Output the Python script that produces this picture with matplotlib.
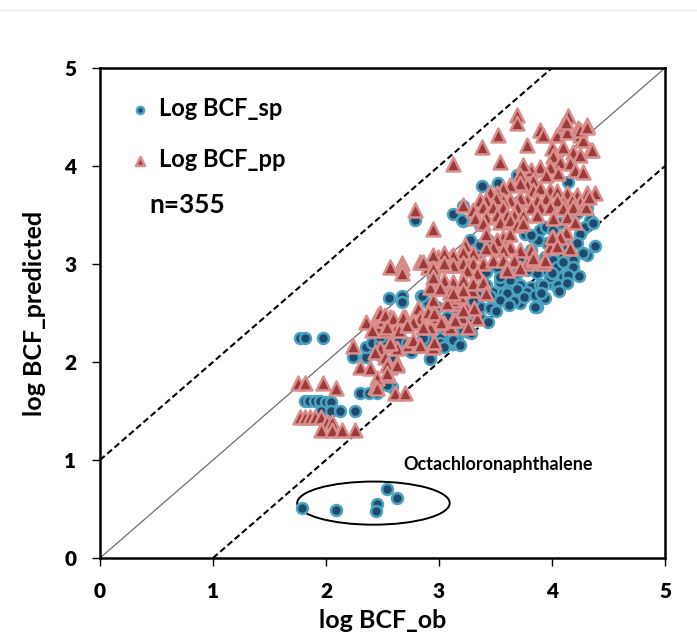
import matplotlib.pyplot as plt
import numpy as np
from matplotlib.patches import Ellipse
from matplotlib.lines import Line2D

# log BCF_sp (circles): observed vs predicted
sp_obs = [1.79, 2.09, 2.45, 2.44, 2.54, 2.63,
          1.77, 1.81, 1.97,
          1.81, 1.85, 1.90, 1.95, 2.00, 2.04,
          1.96, 2.04, 2.12, 2.26,
          2.24, 2.35, 2.35, 2.41, 2.48, 2.48, 2.59,
          2.30, 2.38, 2.45, 2.53, 2.58, 2.54,
          2.56, 2.67, 2.67, 2.84, 2.90, 2.85,
          2.79, 3.12, 3.21, 2.95,
          3.17, 3.23, 2.92, 3.16, 3.21, 3.04, 3.07, 2.98, 2.75, 2.83, 2.52, 2.50,
          2.65, 2.72, 3.01, 3.12, 2.89, 2.48,
          2.92, 3.01, 3.12, 3.16, 3.20, 3.30, 3.07, 2.95, 2.86, 2.98, 3.20, 3.34,
          3.69, 3.52, 3.38, 4.14, 3.21, 3.20, 3.36, 3.39,
          3.76, 3.83, 3.89, 3.95, 4.01, 4.07, 4.22, 4.31, 4.34, 4.29, 4.25, 4.38,
          4.31, 4.22, 4.13, 4.04, 3.96, 3.88, 3.81, 3.72, 3.83, 3.94, 4.01, 4.10,
          4.16, 4.10, 4.04, 3.95, 3.87, 3.78, 3.69, 3.60, 3.54, 3.63, 3.72, 3.81,
          3.89, 3.98, 4.04, 4.13, 3.42, 3.51, 3.42, 3.48, 3.57, 3.34, 3.36, 3.27,
          3.51,
          3.36, 3.43, 3.57, 3.81, 4.36, 4.27, 4.19, 4.05, 3.98, 3.78, 3.69, 3.60,
          3.54, 3.45, 3.63, 3.54, 3.72, 3.87, 3.36, 3.27, 3.36, 3.43, 3.21, 3.12,
          3.19, 3.04,
          4.19, 4.10, 4.14, 4.13, 4.00, 3.92, 3.85, 3.94, 3.85,
          3.30, 3.45, 3.66, 3.75, 3.90, 4.06, 4.24, 3.50, 3.62, 3.28]
sp_pred = [0.51, 0.49, 0.55, 0.48, 0.70, 0.61,
           2.24, 2.24, 2.25,
           1.60, 1.60, 1.60, 1.60, 1.59, 1.59,
           1.50, 1.50, 1.50, 1.50,
           2.05, 2.05, 2.15, 2.19, 2.20, 2.07, 2.02,
           1.68, 1.68, 1.68, 1.78, 1.75, 1.77,
           2.65, 2.67, 2.61, 2.67, 2.60, 2.67,
           3.45, 3.51, 3.44, 2.87,
           2.50, 2.45, 2.04, 2.22, 2.32, 2.30, 2.19, 2.19, 2.10, 2.15, 2.15, 2.22,
           2.22, 2.19, 2.24, 2.18, 2.22, 2.26,
           2.03, 2.19, 2.20, 2.43, 2.33, 2.43, 2.46, 2.33, 2.24, 2.56, 2.53, 2.51,
           3.91, 3.83, 3.80, 3.84, 3.59, 3.45, 3.40, 3.18,
           3.31, 3.28, 3.35, 3.38, 3.35, 3.42, 3.52, 3.57, 3.45, 3.38, 3.31, 3.18,
           3.09, 3.21, 3.18, 3.18, 3.21, 3.24, 3.14, 3.07, 3.04, 3.07, 3.04, 3.07,
           2.94, 2.87, 2.97, 2.94, 2.91, 2.94, 2.91, 2.87, 2.82, 2.77, 2.79, 2.77,
           2.79, 2.81, 2.77, 2.82, 2.92, 2.97, 2.79, 2.71, 2.70, 2.68, 3.11, 3.24,
           3.18,
           3.19, 3.24, 3.22, 3.30, 3.42, 3.11, 3.04, 2.79, 2.87, 2.71, 2.75, 2.70,
           2.63, 2.67, 2.84, 2.87, 2.60, 2.56, 2.56, 2.50, 2.45, 2.41, 2.33, 2.22,
           2.17, 2.15,
           2.97, 3.02, 2.89, 2.81, 2.91, 2.79, 2.68, 2.65, 2.56,
           2.62, 2.55, 2.62, 2.66, 2.70, 2.72, 2.88, 2.52, 2.58, 2.30]

# log BCF_pp (triangles): observed vs predicted
pp_obs = [1.75, 1.81, 1.97, 2.09,
          1.77, 1.81, 1.86, 1.90, 1.96, 2.01, 2.05, 1.96, 2.05, 2.14, 2.26,
          2.24, 2.35, 2.45, 2.30, 2.39, 2.45, 2.43, 2.48, 2.43,
          2.57, 2.63, 2.55, 2.45, 2.61, 2.70,
          2.41, 2.46, 2.50, 2.57, 2.61, 2.70, 2.76, 2.81, 2.83, 2.90, 2.92, 2.98,
          3.04, 3.10, 3.20, 3.26, 3.34, 2.65, 2.58, 2.63, 2.73, 2.81, 2.95, 2.98,
          3.04, 3.21, 3.29, 3.10, 3.16, 2.95, 3.24, 2.52,
          3.12, 2.79, 3.21, 2.95, 2.57, 2.67, 2.67, 2.67, 2.83, 2.90, 2.99, 3.05,
          3.11, 3.17, 3.25, 3.05, 2.92, 3.10, 3.20, 3.12, 3.19, 3.07, 2.90, 2.96,
          2.48, 2.52, 2.59, 2.68, 2.77, 2.54, 2.72, 2.86, 3.02, 3.12, 2.77, 2.83,
          2.96, 2.57, 2.52, 2.54, 2.63, 2.54, 3.23,
          3.69, 3.69, 4.14, 3.52, 3.38, 3.54, 3.78, 3.89, 3.92, 4.04, 4.10, 4.13,
          4.23, 4.31, 4.25, 4.00, 4.10, 4.19, 4.27, 4.34, 4.25, 4.01, 4.07, 3.98,
          4.16, 4.20, 4.27, 3.89, 3.81, 3.74, 3.72, 4.05, 3.95, 3.83, 3.78, 3.72,
          3.63, 3.57, 3.51, 3.45, 3.83, 3.89, 3.98, 4.04, 4.13, 4.22, 4.31, 4.38,
          4.25, 4.18, 4.10, 4.04, 3.95, 3.87, 3.78, 3.72, 3.63, 3.57, 3.50, 3.42,
          3.36, 3.39, 3.48, 3.57, 3.69, 3.81, 3.89, 3.98, 4.10, 4.19, 4.27, 3.30,
          3.32, 3.42, 3.51, 3.60, 3.66, 3.74, 3.39, 3.54, 3.63, 3.69, 3.74, 3.42,
          3.57, 3.63, 3.51, 4.13, 4.01, 3.87, 4.01, 4.12, 4.20, 3.98, 3.81, 3.72,
          3.63, 3.57, 3.48, 3.42, 3.30, 3.21, 3.12, 3.04, 2.95, 2.86, 3.21, 3.30,
          3.39, 3.48, 3.57, 3.66, 3.78, 3.12, 3.04, 2.95, 3.25, 3.34, 3.60, 3.83,
          3.92, 2.95, 3.04, 3.12, 3.21, 3.30, 3.39, 3.21, 3.10, 3.42, 3.12, 3.01,
          4.07, 3.94, 3.60, 3.72, 4.00, 3.31, 3.14, 3.21,
          4.12, 4.25, 4.31, 4.35, 4.04, 3.83, 4.16, 4.30, 4.33]
pp_pred = [1.79, 1.79, 1.79, 1.73,
           1.44, 1.44, 1.44, 1.44, 1.44, 1.39, 1.39, 1.31, 1.31, 1.31, 1.31,
           2.16, 2.41, 2.36, 1.95, 1.94, 1.84, 1.75, 2.14, 2.10,
           1.95, 1.99, 1.87, 1.73, 1.68, 1.68,
           2.33, 2.48, 2.43, 2.46, 2.33, 2.46, 2.41, 2.55, 2.45, 2.50, 2.36, 2.46,
           2.40, 2.36, 2.46, 2.36, 2.45, 2.33, 2.17, 2.14, 2.17, 2.17, 2.15, 2.76,
           2.77, 2.79, 2.73, 2.65, 2.60, 2.63, 2.55, 2.33,
           4.02, 3.55, 3.60, 3.36, 2.97, 3.01, 2.96, 2.91, 3.02, 2.97, 3.07, 3.07,
           3.07, 2.99, 3.07, 2.99, 2.77, 2.71, 2.81, 2.63, 2.67, 2.60, 2.51, 2.50,
           2.50, 2.48, 2.45, 2.46, 2.41, 2.36, 2.38, 2.36, 2.41, 2.43, 2.22, 2.17,
           2.20, 2.19, 2.05, 1.97, 1.97, 1.89, 3.19,
           4.52, 4.44, 4.51, 4.32, 4.19, 4.04, 4.21, 4.37, 4.32, 4.32, 4.42, 4.35,
           4.39, 4.42, 4.32, 4.18, 4.19, 4.14, 4.27, 4.16, 4.11, 4.10, 4.04, 3.99,
           4.03, 3.96, 3.94, 3.99, 3.96, 4.01, 3.91, 3.93, 3.91, 3.86, 3.81, 3.83,
           3.81, 3.78, 3.72, 3.73, 3.76, 3.78, 3.76, 3.74, 3.72, 3.70, 3.72, 3.72,
           3.63, 3.65, 3.63, 3.65, 3.67, 3.65, 3.65, 3.67, 3.65, 3.65, 3.67, 3.65,
           3.65, 3.58, 3.58, 3.58, 3.58, 3.58, 3.58, 3.58, 3.57, 3.58, 3.58, 3.55,
           3.47, 3.48, 3.50, 3.50, 3.50, 3.50, 3.42, 3.43, 3.45, 3.40, 3.42, 3.31,
           3.28, 3.31, 3.24, 3.48, 3.47, 3.50, 3.28, 3.33, 3.43, 3.17, 3.14, 3.14,
           3.17, 3.14, 3.17, 3.16, 3.11, 3.12, 3.09, 3.11, 3.09, 3.02, 3.01, 3.01,
           3.01, 3.04, 3.04, 3.04, 3.01, 2.99, 3.01, 2.96, 2.94, 2.91, 2.96, 3.04,
           3.01, 2.87, 2.84, 2.82, 2.84, 2.81, 2.82, 2.73, 2.71, 2.70, 2.70, 2.76,
           3.28, 3.04, 2.94, 2.96, 3.28, 2.55, 2.43, 2.53,
           4.45, 4.37, 4.40, 4.16, 3.18, 3.06, 3.16, 3.58, 3.68]

# outlier group (Octachloronaphthalene)
ell_center = (2.42, 0.56)
ell_width, ell_height = 1.35, 0.44

ticks = [0, 1, 2, 3, 4, 5]
tick_labels = ['0', '1', '2', '3', '4', '5']

plt.rcParams['font.family'] = ['Lato', 'DejaVu Sans']
plt.rcParams['font.weight'] = 'bold'
plt.rcParams['axes.labelweight'] = 'bold'

fig = plt.figure(figsize=(6.97, 6.34), dpi=100)
ax = fig.add_axes([100 / 697, 76 / 634, 565 / 697, 490 / 634])

# faint line across the top of the image
fig.add_artist(Line2D([0, 1], [1 - 10 / 634] * 2, color='#e6e6e6', lw=1))

# 1:1 line and +/- 1 log unit bands
ax.plot([0, 5], [0, 5], color='#6e6e6e', lw=0.9, zorder=1)
ax.plot([0, 4], [1, 5], color='black', lw=1.5, ls=(0, (3, 1.6)), zorder=1)
ax.plot([1, 5], [0, 4], color='black', lw=1.5, ls=(0, (3, 1.6)), zorder=1)

ax.scatter(sp_obs, sp_pred, s=62, marker='o', facecolor='#1f4a6e',
           edgecolor='#4aa3bf', linewidth=1.8, label='Log BCF_sp', zorder=3)
ax.scatter(pp_obs, pp_pred, s=100, marker='^', facecolor='#9c3a3a',
           edgecolor='#d98e8c', linewidth=1.8, label='Log BCF_pp', zorder=4)

ax.add_patch(Ellipse(ell_center, ell_width, ell_height, fill=False,
                     edgecolor='black', lw=1.4, zorder=2))
ax.text(3.52, 0.95, 'Octachloronaphthalene', fontsize=13, ha='center',
        va='center', fontweight='bold')

leg = ax.legend(loc='upper left', bbox_to_anchor=(0.04, 0.96), frameon=False,
                fontsize=17, markerscale=0.65, handlelength=0.7,
                handletextpad=0.45, labelspacing=1.2, borderaxespad=0)
ax.text(0.088, 0.72, 'n=355', transform=ax.transAxes, fontsize=19,
        va='center', ha='left')

ax.set_xlim(0, 5)
ax.set_ylim(0, 5)
ax.set_xticks(ticks)
ax.set_yticks(ticks)
ax.set_xticklabels(tick_labels, fontweight='heavy', fontsize=15)
ax.set_yticklabels(tick_labels, fontweight='heavy', fontsize=15)
ax.tick_params(direction='out', length=6, width=1, pad=11)
for sp in ax.spines.values():
    sp.set_linewidth(1.8)

ax.set_xlabel('log BCF_ob', fontsize=18, labelpad=6)
ax.set_ylabel('log BCF_predicted', fontsize=18, labelpad=13)

fig.savefig('out.png', dpi=100)
